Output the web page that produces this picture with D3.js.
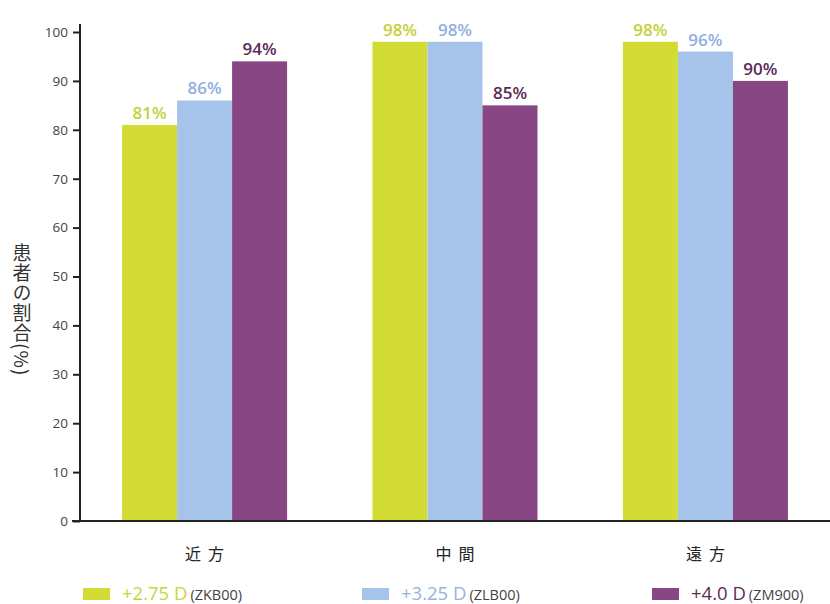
<!DOCTYPE html>
<html>
<head>
<meta charset="utf-8">
<script src="https://cdn.jsdelivr.net/npm/d3@7"></script>
<style>
  html, body { margin: 0; padding: 0; background: #fff; }
  svg { display: block; }
  text { font-family: "Open Sans", "Noto Sans CJK JP", sans-serif; }
  .cjk { font-family: "Noto Sans CJK JP", sans-serif; }
</style>
</head>
<body>
<script>
// Share of patients (%) by viewing distance for three lens add powers
const categories = ["近方", "中間", "遠方"];
const seriesKeys = ["zkb00", "zlb00", "zm900"];
const seriesLabels = ["+2.75 D", "+3.25 D", "+4.0 D"];
const seriesCodes = ["(ZKB00)", "(ZLB00)", "(ZM900)"];
const zkb00 = [81, 98, 98];
const zlb00 = [86, 98, 96];
const zm900 = [94, 85, 90];
const yTicks = [0, 10, 20, 30, 40, 50, 60, 70, 80, 90, 100];

const seriesValues = { zkb00, zlb00, zm900 };
const barColors = ["#d3dc34", "#a6c4ea", "#884784"];
const labelColors = ["#c5d03a", "#8fb0df", "#5c2a57"];
const legendTextColors = ["#c9d43c", "#94b3e0", "#5c2a57"];

const W = 830, H = 604;
const svg = d3.select("body").append("svg").attr("width", W).attr("height", H);

const x0 = d3.scaleBand().domain(categories).range([80, 830])
  .paddingInner(0.341).paddingOuter(0.168);
const x1 = d3.scaleBand().domain(seriesKeys).range([0, x0.bandwidth()]).padding(0);
const y = d3.scaleLinear().domain([0, 100]).range([521, 32]);
const color = d3.scaleOrdinal().domain(seriesKeys).range(barColors);
const labelColor = d3.scaleOrdinal().domain(seriesKeys).range(labelColors);

// Bars
const groups = svg.append("g").selectAll("g")
  .data(categories)
  .join("g")
  .attr("transform", d => `translate(${x0(d)},0)`);

const cells = groups.selectAll("g.cell")
  .data((c, i) => seriesKeys.map(k => ({ key: k, value: seriesValues[k][i] })))
  .join("g").attr("class", "cell");

cells.append("rect")
  .attr("x", d => x1(d.key))
  .attr("width", x1.bandwidth())
  .attr("y", d => y(d.value))
  .attr("height", d => y(0) - y(d.value))
  .attr("fill", d => color(d.key));

cells.append("text")
  .attr("x", d => x1(d.key) + x1.bandwidth() / 2)
  .attr("y", d => y(d.value) - 6)
  .attr("text-anchor", "middle")
  .attr("font-size", 17)
  .attr("font-weight", 600)
  .attr("fill", d => labelColor(d.key))
  .text(d => d.value + "%");

// Y axis
const yAxis = svg.append("g")
  .attr("transform", "translate(80,0)")
  .call(d3.axisLeft(y).tickValues(yTicks).tickSize(7).tickPadding(5).tickSizeOuter(0));
yAxis.select(".domain").attr("stroke", "#222").attr("stroke-width", 2)
  .attr("d", `M0,${y(100) - 8}V${y(0)}`);
yAxis.selectAll(".tick line").attr("stroke", "#222").attr("stroke-width", 2);
yAxis.selectAll(".tick text").attr("font-size", 13.5).attr("fill", "#444")
  .attr("font-family", "'Open Sans', sans-serif");

// X axis
const xAxis = svg.append("g")
  .attr("transform", `translate(0,${y(0)})`)
  .call(d3.axisBottom(x0).tickSize(0).tickPadding(28));
xAxis.select(".domain").attr("stroke", "#222").attr("stroke-width", 2)
  .attr("d", "M72,0H830");
xAxis.selectAll(".tick text")
  .attr("class", "cjk")
  .attr("font-size", 16)
  .attr("font-weight", 400)
  .attr("letter-spacing", 7)
  .attr("dx", 3.5)
  .attr("fill", "#222");

// Y axis title in vertical writing
svg.append("text")
  .attr("class", "cjk")
  .attr("x", 22)
  .attr("y", 243)
  .attr("font-size", 19)
  .attr("letter-spacing", 1)
  .attr("fill", "#333")
  .style("writing-mode", "vertical-rl")
  .text("患者の割合(%)");

// Legend
const legendX = [83, 362, 652];
const legend = svg.append("g").selectAll("g")
  .data(seriesKeys)
  .join("g")
  .attr("transform", (d, i) => `translate(${legendX[i]},588)`);

legend.append("rect")
  .attr("width", 27).attr("height", 12)
  .attr("fill", d => color(d));

const lt = legend.append("text")
  .attr("x", 39)
  .attr("y", 12);
lt.append("tspan")
  .attr("font-size", 18.5)
  .attr("fill", (d, i) => legendTextColors[i])
  .text((d, i) => seriesLabels[i]);
lt.append("tspan")
  .attr("dx", 3)
  .attr("font-size", 14.5)
  .attr("fill", "#444")
  .text((d, i) => seriesCodes[i]);
</script>
</body>
</html>
